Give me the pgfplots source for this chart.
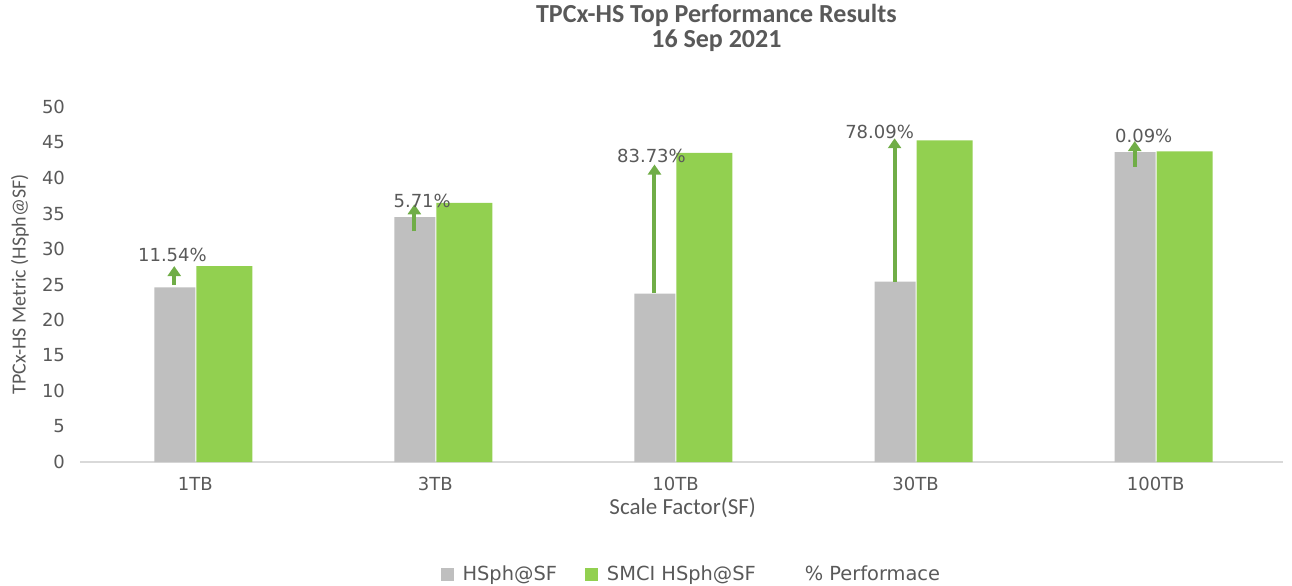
\documentclass[border=0pt]{standalone}
\usepackage{pgfplots}
\pgfplotsset{compat=1.18}
\usepackage{fontspec}
\setmainfont{Carlito}
\newfontfamily\dv{DejaVu Sans}
\usetikzlibrary{arrows.meta}
\definecolor{grayb}{HTML}{BFBFBF}
\definecolor{greenb}{HTML}{92D050}
\definecolor{arrg}{HTML}{70AD47}
\definecolor{txt}{HTML}{595959}
\definecolor{axl}{HTML}{D9D9D9}
\begin{document}
\begin{tikzpicture}
\useasboundingbox (0,0) rectangle (646pt,292.5pt);
\begin{axis}[
  at={(40pt,61.5pt)}, anchor=south west,
  scale only axis, width=601.5pt, height=177.5pt,
  xmin=-0.48, xmax=4.53, ymin=0, ymax=50,
  xtick={0,1,2,3,4}, xticklabels={1TB,3TB,10TB,30TB,100TB},
  ytick={0,5,...,50},
  axis x line*=bottom, axis y line*=left,
  y axis line style={draw=none},
  x axis line style={draw=axl, line width=0.8pt, -},
  tick style={draw=none},
  /pgf/number format/assume math mode=true,
  ticklabel style={font=\dv\fontsize{9}{10}\selectfont, text=txt},
  xticklabel style={yshift=-4pt},
  yticklabel style={xshift=-4pt},
  clip=false,
  legend style={at={(0.509,-0.318)}, anchor=center, draw=none, fill=none,
    font=\dv\fontsize{9.7}{11}\selectfont, text=txt,
    /tikz/every odd column/.append style={column sep=2.5pt},
    /tikz/every even column/.append style={column sep=12pt}},
  legend columns=3,
]
\addplot[ybar, bar width=20.5pt, bar shift=-10.25pt, fill=grayb, draw=none,
  legend image code/.code={\fill[grayb] (0pt,-3pt) rectangle (6.5pt,3.5pt);}]
  coordinates {(0,24.6) (1,34.5) (2,23.7) (3,25.4) (4,43.65)};
\addlegendentry{HSph@SF}
\addplot[ybar, bar width=28pt, bar shift=14.5pt, fill=greenb, draw=none,
  legend image code/.code={\fill[greenb] (0pt,-3pt) rectangle (6.5pt,3.5pt);}]
  coordinates {(0,27.6) (1,36.5) (2,43.55) (3,45.3) (4,43.75)};
\addlegendentry{SMCI HSph@SF}
\addlegendimage{draw=none, fill=none, legend image code/.code={\path[draw=none,fill=none] (0pt,0pt) rectangle (6pt,1pt);}}
\addlegendentry{\% Performace}
% arrows
\addplot[forget plot, arrg, line width=2pt, -{Triangle[width=6.5pt,length=5pt]}] coordinates {(-0.0875,24.9) (-0.0875,27.6)};
\addplot[forget plot, arrg, line width=2pt, -{Triangle[width=6.5pt,length=5pt]}] coordinates {(0.9125,32.5) (0.9125,36.3)};
\addplot[forget plot, arrg, line width=2pt, -{Triangle[width=6.5pt,length=5pt]}] coordinates {(1.9125,23.8) (1.9125,41.9)};
\addplot[forget plot, arrg, line width=2pt, -{Triangle[width=6.5pt,length=5pt]}] coordinates {(2.9125,25.4) (2.9125,45.6)};
\addplot[forget plot, arrg, line width=2pt, -{Triangle[width=6.5pt,length=5pt]}] coordinates {(3.9125,41.6) (3.9125,45.2)};
% labels
\begin{scope}[every node/.style={font=\dv\fontsize{9}{10}\selectfont, text=txt, anchor=center}]
\node at (axis cs:-0.095,29.2) {11.54\%};
\node at (axis cs:0.945,36.8) {5.71\%};
\node at (axis cs:1.9,43.1) {83.73\%};
\node at (axis cs:2.85,46.5) {78.09\%};
\node at (axis cs:3.95,45.9) {0.09\%};
\end{scope}
\node[font=\fontsize{11.5}{13}\selectfont, text=txt] at ([yshift=-23pt]rel axis cs:0.501,0) {Scale Factor(SF)};
\node[font=\fontsize{10}{12}\selectfont, text=txt, rotate=90] at ([xshift=-30pt]rel axis cs:0,0.5) {TPCx-HS Metric (HSph@SF)};
\node[font=\bfseries\fontsize{13}{12.5}\selectfont, text=txt, align=center] at ([yshift=39.75pt]rel axis cs:0.529,1) {TPCx-HS Top Performance Results\\16 Sep 2021};
\end{axis}
\end{tikzpicture}
\end{document}
